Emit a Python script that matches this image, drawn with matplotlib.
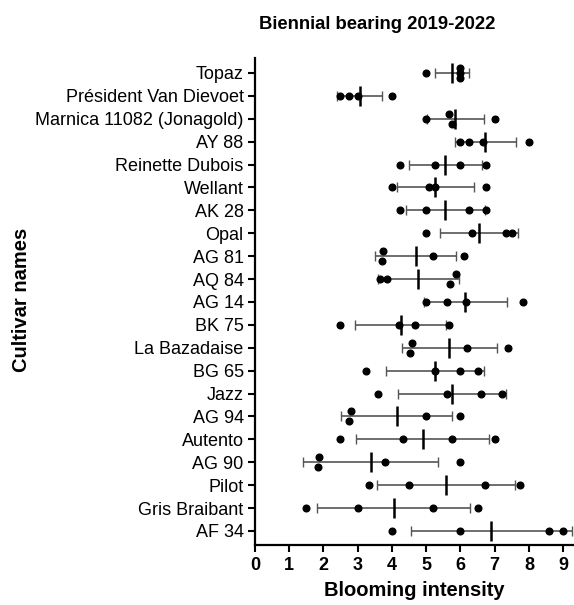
import numpy as np
import matplotlib
matplotlib.use("Agg")
import matplotlib.pyplot as plt

plt.rcParams['font.family'] = ['Liberation Sans', 'DejaVu Sans']

cultivars = ["Topaz", "Président Van Dievoet", "Marnica 11082 (Jonagold)", "AY 88",
             "Reinette Dubois", "Wellant", "AK 28", "Opal", "AG 81", "AQ 84",
             "AG 14", "BK 75", "La Bazadaise", "BG 65", "Jazz", "AG 94",
             "Autento", "AG 90", "Pilot", "Gris Braibant", "AF 34"]

# blooming intensity per year (4 seasons)
topaz = [5.0, 6.0, 6.0, 6.0]
president = [2.5, 2.75, 3.0, 4.0]
marnica = [5.0, 5.67, 5.75, 7.0]
ay88 = [6.0, 6.25, 6.67, 8.0]
reinette = [4.25, 5.25, 6.0, 6.75]
wellant = [4.0, 5.08, 5.25, 6.75]
ak28 = [4.25, 5.0, 6.25, 6.75]
opal = [5.0, 6.33, 7.33, 7.5]
ag81 = [3.75, 3.7, 5.2, 6.12]
aq84 = [3.64, 3.85, 5.86, 5.71]
ag14 = [5.0, 5.6, 6.15, 7.82]
bk75 = [2.5, 4.2, 4.67, 5.67]
bazadaise = [4.6, 4.52, 6.2, 7.4]
bg65 = [3.25, 5.25, 6.0, 6.5]
jazz = [3.6, 5.6, 6.6, 7.22]
ag94 = [2.8, 2.75, 5.0, 6.0]
autento = [2.5, 4.33, 5.75, 7.0]
ag90 = [1.88, 1.83, 3.8, 6.0]
pilot = [3.33, 4.5, 6.72, 7.75]
gris = [1.5, 3.0, 5.2, 6.5]
af34 = [4.0, 6.0, 8.6, 9.0]

values = [topaz, president, marnica, ay88, reinette, wellant, ak28, opal, ag81,
          aq84, ag14, bk75, bazadaise, bg65, jazz, ag94, autento, ag90, pilot,
          gris, af34]


def spread(vals, tol=0.16, step=0.22):
    # small vertical offsets for points that would overlap
    vals = np.asarray(vals, float)
    order = np.argsort(vals, kind='stable')
    offs = np.zeros(len(vals))
    groups = [[order[0]]]
    for i in order[1:]:
        if vals[i] - vals[groups[-1][-1]] < tol:
            groups[-1].append(i)
        else:
            groups.append([i])
    for g in groups:
        k = len(g)
        if k == 1:
            continue
        if k == 2:
            o = [-step, step]
        else:
            o = (np.arange(k) - (k - 1) / 2) * step
        # first entered value goes on top
        for j, idx in enumerate(sorted(g, reverse=True)):
            offs[idx] = o[j]
    return offs


fig = plt.figure(figsize=(5.74, 6.05), dpi=100)
ax = fig.add_axes([0.444, 0.099, 0.555, 0.805])

n = len(cultivars)
ypos = np.arange(n)[::-1]

for y, v in zip(ypos, values):
    v = np.asarray(v, float)
    m = v.mean()
    sd = v.std(ddof=1)
    ax.errorbar(m, y, xerr=sd, fmt='none', ecolor='#555555', elinewidth=1.2,
                capsize=3.5, capthick=1.0, zorder=2)
    ax.plot(m, y, marker='|', color='black', markersize=15, mew=1.8, zorder=3)
    ax.plot(v, y + spread(v), 'o', color='black', markersize=4.8, zorder=4)

ax.set_xlim(0, 9.3)
ax.set_ylim(-0.62, n - 1 + 0.65)
ax.set_xticks(range(10))
ax.set_xticklabels([str(i) for i in range(10)], fontsize=13, fontweight='bold')
ax.set_yticks(ypos)
ax.set_yticklabels(cultivars, fontsize=13)

for s in ['top', 'right']:
    ax.spines[s].set_visible(False)
for s in ['left', 'bottom']:
    ax.spines[s].set_linewidth(1.6)
ax.tick_params(axis='both', width=1.5, length=5, direction='out')
ax.tick_params(axis='y', pad=3)

ax.set_xlabel('Blooming intensity', fontsize=14.5, fontweight='bold', labelpad=5)
fig.text(0.038, 0.504, 'Cultivar names', rotation=90, fontsize=14.5,
         fontweight='bold', ha='center', va='center')
fig.text(0.657, 0.96, 'Biennial bearing 2019-2022', fontsize=13.3,
         fontweight='bold', ha='center', va='center')

plt.savefig('out.png', dpi=100)
